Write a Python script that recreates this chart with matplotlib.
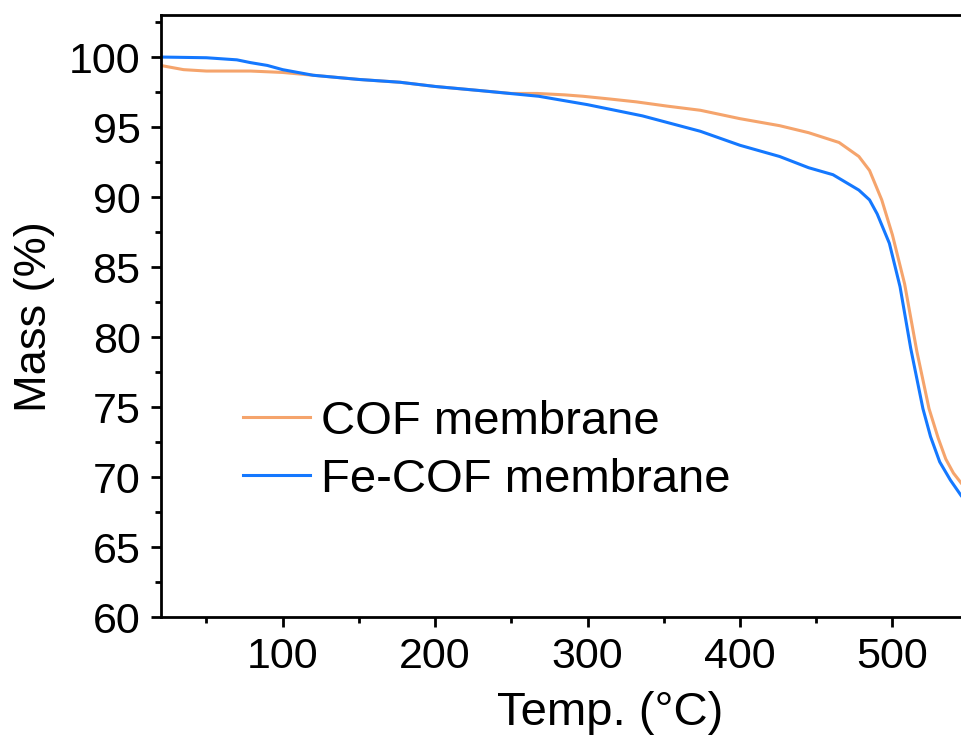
import matplotlib
matplotlib.use('Agg')
from matplotlib import pyplot as plt
from matplotlib.ticker import MultipleLocator

plt.rcParams['font.family'] = ['Liberation Sans', 'DejaVu Sans']

# COF membrane (orange)
cof_temp = [20, 35, 50, 79, 100, 120, 150, 177, 200, 230, 250, 267, 285, 297, 315,
            332, 352, 374, 400, 426, 445, 465, 478, 485, 493, 500, 508, 516, 524,
            530, 535, 540, 545]
cof_mass = [99.4, 99.1, 99.0, 99.0, 98.9, 98.7, 98.4, 98.2, 97.9, 97.6, 97.4, 97.4,
            97.3, 97.2, 97.0, 96.8, 96.5, 96.2, 95.6, 95.1, 94.6, 93.9, 92.9, 91.9,
            89.8, 87.3, 83.8, 79.0, 74.9, 72.8, 71.3, 70.3, 69.6]

# Fe-COF membrane (blue)
fecof_temp = [20, 50, 70, 79, 90, 100, 120, 150, 177, 200, 230, 268, 300, 336, 374,
              400, 426, 445, 461, 478, 485, 490, 498, 505, 512, 520, 525, 531, 538,
              545]
fecof_mass = [100.0, 99.95, 99.8, 99.6, 99.4, 99.1, 98.7, 98.4, 98.2, 97.9, 97.6,
              97.2, 96.6, 95.8, 94.7, 93.7, 92.9, 92.1, 91.6, 90.5, 89.8, 88.8, 86.7,
              83.6, 79.2, 74.9, 72.9, 71.1, 69.8, 68.7]

x_ticks = [100, 200, 300, 400, 500]

fig = plt.figure(figsize=(9.62, 7.51), dpi=100)
# the original plot is cropped on the right, so the axes run past the figure edge
ax = fig.add_axes([0.167, 0.178, 0.935, 0.802])

ax.plot(cof_temp, cof_mass, c='#f5a46c', lw=2.2, label='COF membrane')
ax.plot(fecof_temp, fecof_mass, c='#1478ff', lw=2.2, label='Fe-COF membrane')

ax.set_xlim(20, 610)
ax.set_ylim(60, 103)
ax.set_xticks(x_ticks)
ax.xaxis.set_minor_locator(MultipleLocator(50))
ax.yaxis.set_major_locator(MultipleLocator(5))
ax.yaxis.set_minor_locator(MultipleLocator(2.5))

for side in ['left', 'bottom', 'top']:
    ax.spines[side].set_linewidth(2)

ax.tick_params(axis='both', which='major', direction='out', length=7.5, width=2,
               labelsize=31, pad=7)
ax.tick_params(axis='both', which='minor', direction='out', length=4.5, width=2)

ax.set_xlabel('Temp. (°C)', fontsize=34, labelpad=10)
ax.set_ylabel('Mass (%)', fontsize=32.5, labelpad=10)

ax.legend(loc='center left', bbox_to_anchor=(0.208, 0.400), bbox_transform=fig.transFigure,
          fontsize=34, frameon=False, handlelength=1.42, handletextpad=0.25,
          labelspacing=0.3)

fig.savefig('out.png', dpi=100)
